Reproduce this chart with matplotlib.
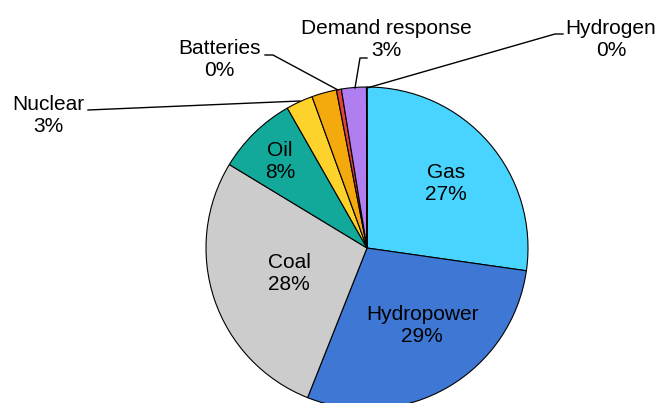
import matplotlib
matplotlib.use("Agg")
import matplotlib.pyplot as plt

plt.rcParams['font.family'] = ['Liberation Sans', 'DejaVu Sans']

# slices, clockwise from 12 o'clock
sources = ["Gas", "Hydropower", "Coal", "Oil", "Nuclear", "Other", "Batteries",
           "Demand response", "Hydrogen"]
shares = [27.3, 28.8, 27.7, 8.1, 2.7, 2.5, 0.5, 2.5, 0.05]
pct_labels = ["27%", "29%", "28%", "8%", "3%", "", "0%", "3%", "0%"]
colors = ["#48D4FF", "#3F78D4", "#CCCCCC", "#12A99B", "#FDD32B", "#F4A90C",
          "#E2403A", "#B07EF0", "#F0F0F0"]

fig = plt.figure(figsize=(6.58, 4.03), dpi=100)
ax = fig.add_axes([0, 0, 1, 1])

# work in pixel-like coordinates (y up)
cx, cy, r = 367, 155, 161
wedges, _ = ax.pie(shares, colors=colors, startangle=90, counterclock=False,
                   center=(cx, cy), radius=r,
                   wedgeprops=dict(edgecolor="black", linewidth=0.8))
ax.set_xlim(0, 658)
ax.set_ylim(0, 403)
ax.set_aspect("equal")
ax.axis("off")

fs = 15
# labels inside the big slices
inside_pos = {0: (446, 219), 1: (422, 78), 2: (289, 129), 3: (280, 242)}
for i, (x, y) in inside_pos.items():
    ax.text(x, y, sources[i] + "\n" + pct_labels[i], ha="center", va="center",
            fontsize=fs, linespacing=1.2)

# outside labels with leader lines
outside = {
    4: ((48, 288), [(88, 293), (300, 302)]),
    6: ((219, 343), [(265, 348), (273, 348), (338, 313)]),
    7: ((386, 363), [(367, 345), (360, 345), (355, 315)]),
    8: ((611, 363), [(563, 369), (555, 369), (367, 315)]),
}
for i, ((x, y), pts) in outside.items():
    ax.text(x, y, sources[i] + "\n" + pct_labels[i], ha="center", va="center",
            fontsize=fs, linespacing=1.2)
    xs = [p[0] for p in pts]
    ys = [p[1] for p in pts]
    ax.plot(xs, ys, color="black", linewidth=1.0)

fig.savefig("out.png", dpi=100)
